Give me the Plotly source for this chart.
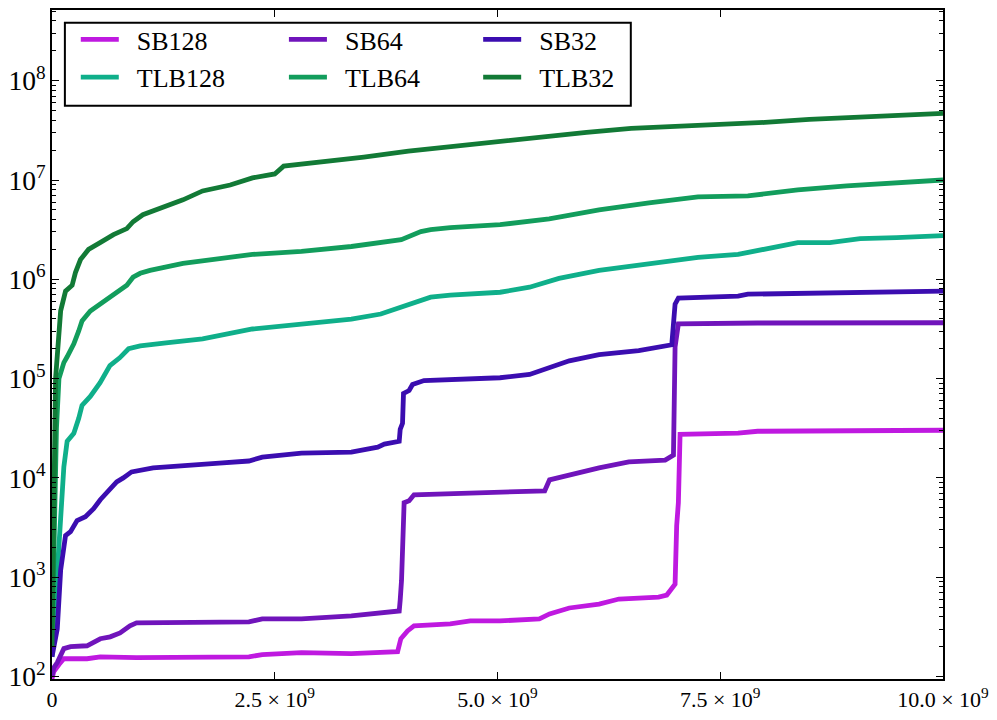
import plotly.graph_objects as go

# Cumulative counts vs. instructions executed (x values in units of 1e9)
BILLION = 1e9

sb128_x = [0, 0.02, 0.078, 0.115, 0.133, 0.393, 0.542, 0.949, 2.21, 2.36, 2.80, 3.36, 3.879,
           3.915, 3.99, 4.063, 4.47, 4.694, 5.028, 5.47, 5.584, 5.806, 6.14, 6.363, 6.808,
           6.90, 6.993, 7.011, 7.03, 7.049, 7.14, 7.70, 7.92, 10.0]
sb128_y = [95, 112, 132, 148, 151, 151, 158, 155, 158, 166, 174, 170, 178,
           240, 288, 324, 339, 363, 363, 380, 427, 490, 537, 603, 631,
           661, 851, 3310, 5620, 27500, 27500, 28200, 29500, 30200]

sb64_x = [0, 0.02, 0.059, 0.097, 0.133, 0.208, 0.393, 0.542, 0.653, 0.764, 0.875, 0.949,
          1.32, 2.21, 2.36, 2.80, 3.36, 3.656, 3.897, 3.908, 3.923, 3.952, 4.008, 4.063,
          4.694, 5.028, 5.53, 5.584, 5.806, 6.14, 6.474, 6.882, 6.975, 6.993, 7.03, 7.92, 10.0]
sb64_y = [100, 123, 138, 166, 191, 200, 204, 240, 251, 275, 324, 347,
          347, 355, 380, 380, 407, 437, 457, 589, 933, 5620, 5890, 6760,
          7080, 7080, 7410, 9550, 10700, 12600, 14500, 15100, 17000, 209000, 355000, 363000, 365000]

sb32_x = [0, 0.02, 0.059, 0.097, 0.133, 0.152, 0.208, 0.281, 0.375, 0.467, 0.542, 0.653,
          0.726, 0.80, 0.893, 1.135, 1.505, 1.877, 2.21, 2.36, 2.80, 3.36, 3.656, 3.73,
          3.897, 3.908, 3.934, 3.945, 4.008, 4.046, 4.175, 4.694, 5.028, 5.36, 5.584, 5.806,
          6.14, 6.585, 6.956, 6.993, 7.03, 7.327, 7.70, 7.81, 8.365, 10.0]
sb32_y = [158, 204, 302, 1175, 1820, 2630, 2880, 3720, 4070, 4900, 6030, 7590,
          9120, 10000, 11500, 12600, 13500, 14100, 14800, 16200, 17800, 18200, 20400, 21900,
          23400, 30900, 35500, 70800, 75900, 87100, 95500, 100000, 102000, 110000, 129000, 151000,
          174000, 191000, 219000, 562000, 646000, 661000, 676000, 708000, 724000, 759000]

tlb128_x = [0, 0.02, 0.059, 0.097, 0.133, 0.17, 0.245, 0.30, 0.337, 0.43, 0.54, 0.65,
            0.76, 0.86, 0.99, 1.28, 1.47, 1.69, 2.25, 2.80, 3.36, 3.69, 3.92, 4.14,
            4.25, 4.47, 5.03, 5.36, 5.69, 6.14, 6.70, 7.25, 7.70, 7.81, 8.17, 8.37,
            8.73, 9.07, 9.48, 10.0]
tlb128_y = [158, 316, 1175, 4570, 12900, 23400, 28200, 39800, 53700, 66100, 91200, 135000,
            162000, 200000, 214000, 229000, 240000, 251000, 316000, 355000, 398000, 447000, 525000, 617000,
            661000, 692000, 741000, 832000, 1020000, 1230000, 1450000, 1660000, 1780000, 1860000, 2140000, 2340000,
            2340000, 2570000, 2630000, 2750000]

tlb64_x = [0, 0.02, 0.05, 0.078, 0.133, 0.17, 0.245, 0.30, 0.337, 0.43, 0.54, 0.65,
           0.76, 0.84, 0.91, 0.99, 1.10, 1.28, 1.47, 2.25, 2.80, 3.36, 3.92, 4.14,
           4.25, 4.47, 5.03, 5.58, 6.14, 6.70, 7.25, 7.81, 8.37, 8.92, 9.48, 10.0]
tlb64_y = [200, 1000, 31600, 100000, 145000, 166000, 224000, 302000, 380000, 479000, 562000, 646000,
           759000, 871000, 1050000, 1150000, 1230000, 1320000, 1450000, 1780000, 1910000, 2140000, 2510000, 3020000,
           3160000, 3310000, 3550000, 4070000, 5010000, 5890000, 6760000, 6920000, 7940000, 8710000, 9330000, 10000000]

tlb32_x = [0, 0.02, 0.04, 0.097, 0.152, 0.226, 0.263, 0.32, 0.41, 0.54, 0.69, 0.84,
           0.91, 1.02, 1.28, 1.47, 1.69, 2.0, 2.25, 2.5, 2.6, 3.0, 3.5, 4.0,
           4.5, 5.0, 5.5, 6.0, 6.5, 7.0, 7.5, 8.0, 8.5, 9.0, 9.5, 10.0]
tlb32_y = [200, 3160, 100000, 480000, 760000, 870000, 1170000, 1580000, 2000000, 2340000, 2820000, 3240000,
           3800000, 4470000, 5370000, 6310000, 7760000, 8910000, 10500000, 11500000, 13800000, 15100000, 17000000, 19500000,
           21900000, 24000000, 27500000, 30200000, 33100000, 34700000, 35500000, 38000000, 40700000, 42700000, 44700000, 46800000]

x_tickvals = [0, 2.5e9, 5.0e9, 7.5e9, 10.0e9]
x_ticktext = ["0", "2.5 × 10<sup>9</sup>", "5.0 × 10<sup>9</sup>",
              "7.5 × 10<sup>9</sup>", "10.0 × 10<sup>9</sup>"]

FONT = "'Liberation Serif', 'Times New Roman', 'DejaVu Serif', serif"
GAP = "\u00a0\u00a0"  # extra space between legend swatch and label

series = [
    ("SB128", sb128_x, sb128_y, "#BF19E0", "legend"),
    ("TLB128", tlb128_x, tlb128_y, "#0FAF8A", "legend"),
    ("SB64", sb64_x, sb64_y, "#7014BB", "legend2"),
    ("TLB64", tlb64_x, tlb64_y, "#129D5C", "legend2"),
    ("SB32", sb32_x, sb32_y, "#3B0DB0", "legend3"),
    ("TLB32", tlb32_x, tlb32_y, "#127A36", "legend3"),
]

fig = go.Figure()
for name, xs, ys, color, leg in series:
    fig.add_trace(go.Scatter(
        x=[v * BILLION for v in xs], y=ys, mode="lines", name=GAP + name,
        line=dict(color=color, width=4.8), legend=leg, legendgroup=name,
    ))

axis_common = dict(
    showline=True, linecolor="black", linewidth=2, mirror="allticks",
    ticks="inside", ticklen=7, tickwidth=1, tickcolor="black",
    showgrid=False, zeroline=False,
    tickfont=dict(family=FONT, size=22, color="black"),
)

fig.update_xaxes(range=[0, 1e10], tickvals=x_tickvals, ticktext=x_ticktext, **axis_common)
fig.update_yaxes(type="log", range=[1.975, 8.712], dtick=1, exponentformat="power",
                 minor=dict(ticks="inside", ticklen=4, dtick="D1", tickcolor="black"),
                 **axis_common)

legend_common = dict(
    orientation="v", bgcolor="rgba(0,0,0,0)", borderwidth=0,
    font=dict(family=FONT, size=26, color="black"),
    itemwidth=38, tracegroupgap=1, xanchor="left", yanchor="top", y=0.991,
)

fig.update_layout(
    width=997, height=720,
    margin=dict(l=48, r=50, t=8, b=27),
    paper_bgcolor="white", plot_bgcolor="white",
    font=dict(family=FONT),
    legend=dict(x=(72 - 48) / 899, **legend_common),
    legend2=dict(x=(282 - 48) / 899, **legend_common),
    legend3=dict(x=(478 - 48) / 899, **legend_common),
    shapes=[dict(type="rect", xref="x domain", yref="y domain",
                 x0=(61 - 48) / 899, x1=(632 - 48) / 899,
                 y0=(693.5 - 106) / 685.5, y1=(693.5 - 21) / 685.5,
                 line=dict(color="black", width=2), fillcolor="rgba(0,0,0,0)", layer="above")],
)

fig.write_html("out.html")
